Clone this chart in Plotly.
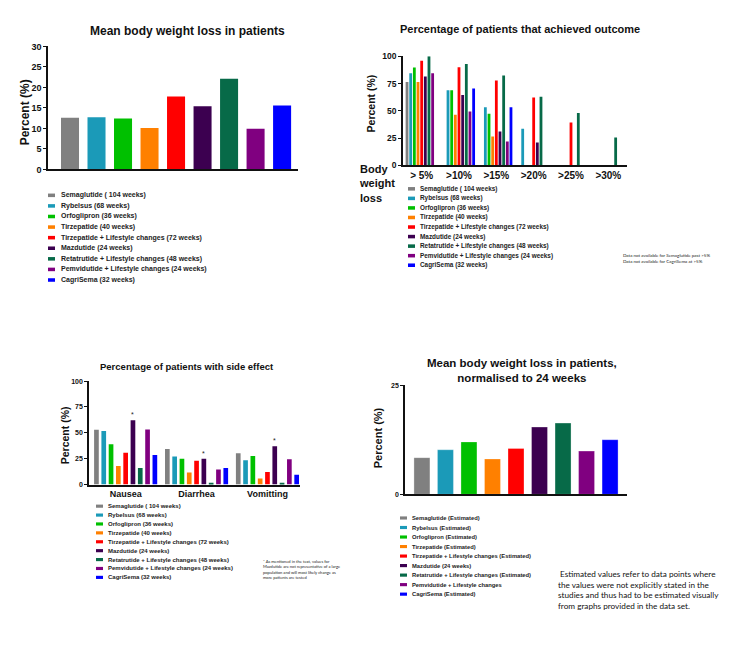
import plotly.graph_objects as go

W, H = 734, 650
FONT = "Liberation Sans, Arial, sans-serif"

# ---------------- data ----------------
drugs = ["Semaglutide", "Rybelsus", "Orfoglipron", "Tirzepatide",
         "Tirzepatide + Lifestyle", "Mazdutide", "Retatrutide + Lifestyle",
         "Pemvidutide + Lifestyle", "CagriSema"]
colors = ["#808080", "#1b9ab8", "#00c000", "#ff8000", "#ff0000",
          "#3c0050", "#076a48", "#800080", "#0000ff"]

legend_main = ["Semaglutide ( 104 weeks)", "Rybelsus (68 weeks)", "Orfoglipron (36 weeks)",
               "Tirzepatide (40 weeks)", "Tirzepatide + Lifestyle changes (72 weeks)",
               "Mazdutide (24 weeks)", "Retatrutide + Lifestyle changes (48 weeks)",
               "Pemvidutide + Lifestyle changes (24 weeks)", "CagriSema (32 weeks)"]
legend_est = ["Semaglutide (Estimated)", "Rybelsus (Estimated)", "Orfoglipron (Estimated)",
              "Tirzepatide (Estimated)", "Tirzepatide + Lifestyle changes (Estimated)",
              "Mazdutide (24 weeks)", "Retatrutide + Lifestyle changes (Estimated)",
              "Pemvidutide + Lifestyle changes", "CagriSema (Estimated)"]

mean_loss = [12.6, 12.7, 12.4, 10.1, 17.8, 15.4, 22.1, 9.9, 15.6]

outcome_cats = ["> 5%", ">10%", ">15%", ">20%", ">25%", ">30%"]
outcome_gt5 = [76.5, 84.5, 89.6, 76.5, 95.8, 81.5, 100, 84.5, None]
outcome_gt10 = [None, 68.8, 68.8, 46.4, 89.9, 64.6, 92.9, 49.4, 70.5]
outcome_gt15 = [None, 53.3, 47.3, 26.5, 77.7, 31.0, 82.4, 22.0, 53.3]
outcome_gt20 = [None, 33.6, None, None, 62.2, 21.0, 62.8, None, None]
outcome_gt25 = [None, None, None, None, 39.3, None, 48.0, None, None]
outcome_gt30 = [None, None, None, None, None, None, 25.6, None, None]
outcome_rows = [outcome_gt5, outcome_gt10, outcome_gt15, outcome_gt20, outcome_gt25, outcome_gt30]

side_cats = ["Nausea", "Diarrhea", "Vomitting"]
side_nausea = [53.0, 51.7, 39.0, 17.8, 30.8, 62.2, 15.9, 53.3, 28.6]
side_diarrhea = [34.3, 27.0, 24.8, 11.7, 22.9, 24.8, 1.6, 14.6, 15.9]
side_vomiting = [30.2, 23.5, 27.6, 5.7, 12.0, 37.1, 1.6, 24.4, 9.5]
side_rows = [side_nausea, side_diarrhea, side_vomiting]
asterisk_index = 5  # Mazdutide

normalised_24w = [8.4, 10.2, 12.0, 8.1, 10.5, 15.4, 16.3, 9.9, 12.5]


def px(x):
    return x / W


def py(y):
    return 1 - y / H


fig = go.Figure()

# Panel 1
fig.add_trace(go.Bar(x=drugs, y=mean_loss, marker=dict(color=colors, line_width=0),
                     width=0.68, xaxis="x", yaxis="y", showlegend=False))

# Panel 2 (grouped, explicit offsets)
slot2, bw2 = 0.098, 0.075
for i, d in enumerate(drugs):
    fig.add_trace(go.Bar(x=outcome_cats, y=[row[i] for row in outcome_rows],
                         marker=dict(color=colors[i], line_width=0),
                         offset=(i - 4) * slot2 - bw2 / 2, width=bw2,
                         xaxis="x2", yaxis="y2", showlegend=False))

# Panel 3
slot3, bw3 = 0.103, 0.066
for i, d in enumerate(drugs):
    fig.add_trace(go.Bar(x=side_cats, y=[row[i] for row in side_rows],
                         marker=dict(color=colors[i], line_width=0),
                         offset=(i - 4) * slot3 - bw3 / 2, width=bw3,
                         xaxis="x3", yaxis="y3", showlegend=False))
for k, row in enumerate(side_rows):
    fig.add_annotation(x=k + (asterisk_index - 4) * slot3, y=row[asterisk_index],
                       xref="x3", yref="y3", text="*", showarrow=False,
                       yanchor="bottom", yshift=0, font=dict(size=7, color="#222"))

# Panel 4
fig.add_trace(go.Bar(x=drugs, y=normalised_24w,
                     marker=dict(color=colors, line=dict(color="rgba(255,255,255,0.5)", width=0.6)),
                     width=0.68, xaxis="x4", yaxis="y4", showlegend=False))

axis_common = dict(showline=True, linecolor="#111", linewidth=1.5, showgrid=False,
                   zeroline=False, mirror=False)
ytick = dict(ticks="outside", ticklen=3, tickwidth=1.2, tickcolor="#111")

fig.update_layout(
    width=W, height=H, margin=dict(l=0, r=0, t=0, b=0),
    paper_bgcolor="white", plot_bgcolor="white",
    barmode="overlay", font=dict(family=FONT, color="#111"),
    xaxis=dict(domain=[px(48), px(298)], range=[-0.83, 8.6], showticklabels=False,
               ticks="", anchor="y", **axis_common),
    yaxis=dict(domain=[py(167), py(42)], range=[0, 30], dtick=5, anchor="x",
               tickfont=dict(size=9, weight="bold"), **ytick, **axis_common),
    xaxis2=dict(domain=[px(403), px(627)], range=[-0.5, 5.5], anchor="y2", ticks="",
                tickfont=dict(size=10, weight="bold"), **axis_common),
    yaxis2=dict(domain=[py(163), py(52)], range=[0, 100], dtick=25, anchor="x2",
                tickfont=dict(size=8.5, weight="bold"), **ytick, **axis_common),
    xaxis3=dict(domain=[px(89), px(300)], range=[-0.517, 2.459], anchor="y3", ticks="",
                tickfont=dict(size=9, weight="bold"), **axis_common),
    yaxis3=dict(domain=[py(487), py(382)], range=[0, 100], dtick=25, anchor="x3",
                tickfont=dict(size=7, weight="bold"), **ytick, **axis_common),
    xaxis4=dict(domain=[px(405), px(627)], range=[-0.72, 8.72], showticklabels=False,
                ticks="", anchor="y4", **axis_common),
    yaxis4=dict(domain=[py(497), py(386)], range=[0, 25], dtick=25, anchor="x4",
                tickfont=dict(size=7, weight="bold"), **ytick, **axis_common),
)


def text(x, y, s, size, bold=True, xanchor="center", yanchor="middle", angle=0,
         family=FONT, color="#111", align="center"):
    fig.add_annotation(x=px(x), y=py(y), xref="paper", yref="paper",
                       text=f"<b>{s}</b>" if bold else s, showarrow=False,
                       xanchor=xanchor, yanchor=yanchor, textangle=angle, align=align,
                       font=dict(size=size, family=family, color=color))


# Titles
text(187, 26, "Mean body weight loss in patients", 12)
text(520, 24, "Percentage of patients that achieved outcome", 11)
text(187, 367, "Percentage of patients with side effect", 9.5)
text(522, 371, "Mean body weight loss in patients,<br>normalised to 24 weeks", 11.5)

# Y labels
text(25, 109, "Percent (%)", 12, angle=-90)
text(371, 100, "Percent (%)", 10.5, angle=-90)
text(65, 437, "Percent (%)", 10.5, angle=-90)
text(378, 440, "Percent (%)", 11, angle=-90)

# Body weight loss
text(357, 181, "Body<br>weight<br>loss", 11, xanchor="left", align="left")


def add_legend(labels, x_sw, x_text, y0, dy, size, sw_w=7, sw_h=3.6):
    for i, (lab, col) in enumerate(zip(labels, colors)):
        yc = y0 + i * dy
        fig.add_shape(type="rect", xref="paper", yref="paper",
                      x0=px(x_sw), x1=px(x_sw + sw_w), y0=py(yc + sw_h / 2), y1=py(yc - sw_h / 2),
                      fillcolor=col, line_width=0)
        text(x_text, yc, lab, size, xanchor="left", color="#222")


add_legend(legend_main, 48, 59, 193.3, 10.75, 7.0)
add_legend(legend_main, 408, 418, 186.7, 9.7, 6.4)
add_legend(legend_main, 96, 106, 509, 9.04, 6.0, sw_h=3.2)
add_legend(legend_est, 400, 410.5, 521, 9.67, 5.8, sw_h=3.2)

# Notes
text(621, 257, "Data not available for Semaglutide past >5%<br>Data not available for CagriSema at >5%",
     4.5, bold=False, xanchor="left", align="left", family="Lato, sans-serif", color="#222")
text(261, 573.5, "* As mentioned in the text, values for<br>Mazdutide are not representative of a large<br>"
     "population and will most likely change as<br>more patients are tested",
     4.1, bold=False, xanchor="left", align="left", family="Lato, sans-serif", color="#222")
text(556, 594, "&nbsp;Estimated values refer to data points where<br>the values were not explicitly stated in the<br>"
     "studies and thus had to be estimated visually<br>from graphs provided in the data set.",
     8.2, bold=False, xanchor="left", align="left", family="Lato, sans-serif", color="#111")

fig.write_html("out.html", config={"displayModeBar": False},
               post_script="document.body.style.margin='0px';")
